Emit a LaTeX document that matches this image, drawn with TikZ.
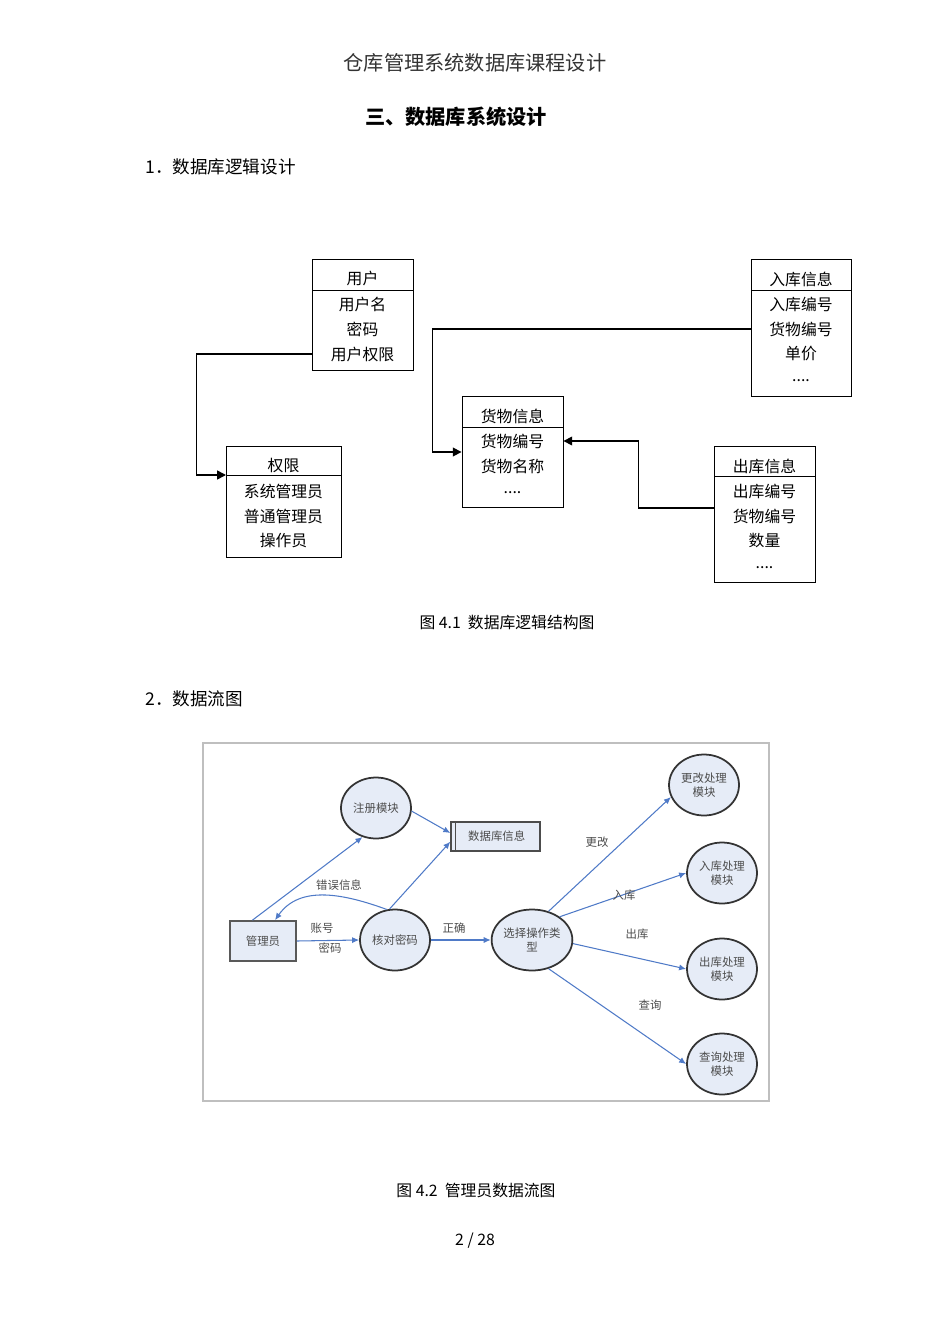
\documentclass[tikz,border=0pt]{standalone}
\usepackage{fontspec}
\setmainfont{Noto Sans CJK SC}
\usetikzlibrary{shapes.geometric, arrows.meta, positioning, calc, fit}

\definecolor{flowblue}{HTML}{4F7AC7}
\definecolor{bubble}{HTML}{E6ECF7}

\tikzset{
  ebox/.style={draw, line width=0.5pt, inner sep=0pt},
  etext/.style={font=\fontsize{9}{10}\selectfont, inner sep=0pt},
  elink/.style={line width=0.9pt, -{Triangle[length=5pt,width=5pt]}},
  proc/.style={ellipse, draw=black!80, line width=1pt, fill=bubble, minimum width=1.4cm, minimum height=1.22cm,
    inner sep=0pt, align=center, text=black!70, font=\fontsize{6.5}{8}\selectfont},
  flow/.style={draw=flowblue, line width=0.6pt, -{Latex[length=4pt,width=3.5pt]}},
  flab/.style={text=black!70, font=\fontsize{6.5}{8}\selectfont, inner sep=0pt},
  ptext/.style={font=\fontsize{10}{12}\selectfont, inner sep=0pt}
}

\newcommand\edots{....}
% entity box: id, x1, y1, x2, y2, divider y, rows (y/text)
\newcommand\entity[7]{%
  \node[ebox, fit={(#2,#3)(#4,#5)}] (#1) {};
  \draw[line width=0.5pt] (#2,#6) coordinate (#1-line) -- (#4,#6);
  \foreach \y/\t [count=\i from 0] in {#7}
    \node[etext] (#1-r\i) at ({(#2+#4)/2},\y) {\t};
}

\begin{document}
\begin{tikzpicture}[x=0.02cm, y=-0.02cm]
\useasboundingbox (0,0) rectangle (950,1344);

% page texts
\node[ptext, font=\fontsize{11.5}{13}\selectfont, text=black!80] (head) at (475,63) {仓库管理系统数据库课程设计};
\node[ptext, font=\fontsize{11.5}{13}\selectfont\bfseries] (sec) at (456,117) {三、数据库系统设计};
\node[ptext, anchor=west] (s1) at (145,167) {1．数据库逻辑设计};
\node[ptext, anchor=west] (s2) at (145,699) {2．数据流图};
\node[ptext, font=\fontsize{9}{10}\selectfont] (cap1) at (507,623) {图 4.1\ \ 数据库逻辑结构图};
\node[ptext, font=\fontsize{9}{10}\selectfont] (cap2) at (476,1190) {图 4.2\ \ 管理员数据流图};
\node[ptext, font=\fontsize{9}{10}\selectfont] (pg) at (475,1241) {2 / 28};

% logical structure
\entity{yh}{312}{259}{413}{370}{290}{279/用户, 304/用户名, 329/密码, 354/用户权限}
\entity{qx}{226}{446}{341}{557}{475}{466/权限, 491/系统管理员, 516/普通管理员, 541/操作员}
\entity{hw}{462}{396}{563}{507}{427}{416/货物信息, 441/货物编号, 466/货物名称, 493/\edots}
\entity{rk}{751}{259}{851}{396}{290}{279/入库信息, 304/入库编号, 329/货物编号, 354/单价, 381/\edots}
\entity{ck}{714}{446}{815}{582}{476}{466/出库信息, 491/出库编号, 516/货物编号, 541/数量, 568/\edots}

\draw[elink] (yh.west |- yh-r3) -| ++(-115,0) |- (qx-line);
\draw[elink] (rk.west |- rk-r2) -| ++(-318,0) |- ($(hw.west |- hw-r1)+(0,11)$);
\draw[elink] ($(ck.west |- ck-r1)+(0,17)$) -| ++(-75,0) |- (hw.east |- hw-r1);

% data flow
\draw[black!25, line width=0.6pt] (203,743) rectangle (769,1101);
\node[draw=black!65, line width=1pt, fill=bubble, minimum width=1.32cm, minimum height=0.8cm,
  text=black!70, font=\fontsize{6.5}{8}\selectfont] (gly) at (263,941) {管理员};
\node[proc] (zc) at (376,808) {注册模块};
\node[draw=black!70, line width=0.8pt, fill=bubble, minimum width=1.78cm, minimum height=0.58cm,
  text=black!70, font=\fontsize{6.5}{8}\selectfont] (db) at (495.5,836.5) {\ 数据库信息};
\draw[black!70, line width=0.8pt] ([xshift=3pt]db.north west) -- ([xshift=3pt]db.south west);
\node[proc] (hd) at (395,940) {核对密码};
\node[proc] (xz) at (532,940) {选择操作类\\型};
\node[proc] (gg) at (704,785) {更改处理\\模块};
\node[proc] (rkm) at (722,873) {入库处理\\模块};
\node[proc] (ckm) at (722,969) {出库处理\\模块};
\node[proc] (cx) at (722,1064) {查询处理\\模块};

\draw[flow] ([xshift=-6pt]gly.north) -- (zc.245);
\draw[flow] (zc.-5) -- ([yshift=2pt]db.west);
\draw[flow] (hd.100) -- ([yshift=-3pt]db.west);
\draw[flow] (hd.105) to[out=160,in=55] (gly.60);
\draw[flow] (gly.east) -- (hd.west);
\draw[flow] (hd.east) -- (xz.west);
\draw[flow] (xz.60) -- (gg.200);
\draw[flow] (xz.40) -- (rkm.west);
\draw[flow] (xz.-5) -- (ckm.west);
\draw[flow] (xz.-60) -- (cx.west);

\node[flab] (l1) at (339,885) {错误信息};
\node[flab] (l2) at (322,928) {账号};
\node[flab] (l3) at (330,948) {密码};
\node[flab] (l4) at (454,928) {正确};
\node[flab] (l5) at (597,842) {更改};
\node[flab] (l6) at (624,895) {入库};
\node[flab] (l7) at (637,934) {出库};
\node[flab] (l8) at (650,1005) {查询};
\end{tikzpicture}
\end{document}
